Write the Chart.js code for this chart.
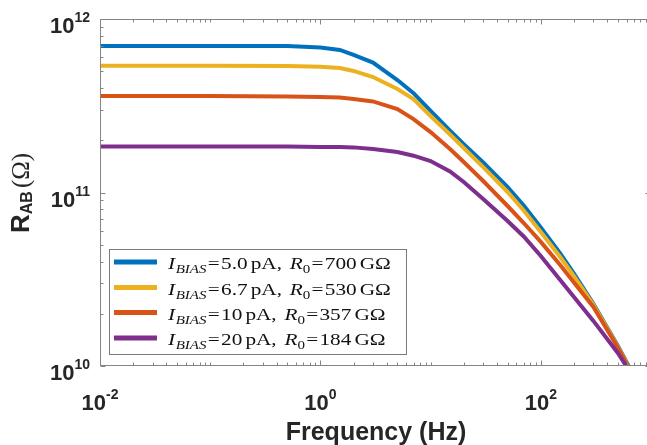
<!DOCTYPE html>
<html><head><meta charset="utf-8">
<script src="https://cdn.jsdelivr.net/npm/chart.js@4.4.0/dist/chart.umd.min.js"></script>
<style>
html,body{margin:0;padding:0;background:#fff;overflow:hidden}
#wrap{width:647px;height:445px;overflow:hidden;position:relative;background:#fff}
canvas{display:block}
</style></head>
<body><div id="wrap"><canvas id="c" width="660" height="445"></canvas></div>
<script>
// ---- data ----
const frequencies = [0.01, 0.1, 0.5, 1, 1.5, 2, 3, 5, 7, 10, 15, 20, 30, 50, 70, 100, 150, 200, 300, 500, 700];
const seriesI5  = [7.0e11, 7.0e11, 6.98e11, 6.85e11, 6.63e11, 6.21e11, 5.61e11, 4.45e11, 3.74e11, 2.95e11, 2.27e11, 1.90e11, 1.49e11, 1.074e11, 8.41e10, 6.28e10, 4.46e10, 3.41e10, 2.28e10, 1.31e10, 8.77e9];
const seriesI67 = [5.38e11, 5.38e11, 5.36e11, 5.30e11, 5.22e11, 5.02e11, 4.63e11, 3.95e11, 3.46e11, 2.76e11, 2.16e11, 1.805e11, 1.40e11, 1.007e11, 7.88e10, 5.92e10, 4.25e10, 3.30e10, 2.25e10, 1.296e10, 8.64e9];
const seriesI10 = [3.60e11, 3.60e11, 3.58e11, 3.55e11, 3.53e11, 3.46e11, 3.35e11, 3.03e11, 2.65e11, 2.23e11, 1.781e11, 1.50e11, 1.165e11, 8.36e10, 6.67e10, 5.19e10, 3.82e10, 3.03e10, 2.19e10, 1.279e10, 8.58e9];
const seriesI20 = [1.84e11, 1.84e11, 1.84e11, 1.83e11, 1.83e11, 1.82e11, 1.78e11, 1.71e11, 1.63e11, 1.519e11, 1.321e11, 1.15e11, 9.17e10, 6.85e10, 5.58e10, 4.31e10, 3.13e10, 2.50e10, 1.82e10, 1.188e10, 8.53e9];
const biasCurrents = ['5.0', '6.7', '10', '20'];
const r0Values = ['700', '530', '357', '184'];
const xTickExponents = [-2, 0, 2];
const yTickExponents = [10, 11, 12];
const xLabelText = 'Frequency (Hz)';

const colors = ['#0072BD', '#EDB120', '#D95319', '#7E2F8E'];
const allSeries = [seriesI5, seriesI67, seriesI10, seriesI20];

const datasets = allSeries.map((s, i) => ({
  label: 'I_BIAS=' + biasCurrents[i] + ' pA, R_0=' + r0Values[i] + ' G\u03A9',
  data: frequencies.map((f, j) => ({x: f, y: s[j]})),
  borderColor: colors[i],
  backgroundColor: colors[i],
  borderWidth: 4,
  pointRadius: 0,
  tension: 0,
  fill: false,
  clip: 0,
  order: 3 - i
}));

const axisColor = '#858585';
const textColor = '#262626';
const SANS = '"Liberation Sans", Arial, Helvetica, sans-serif';
const SERIF = '"Liberation Serif", "Times New Roman", serif';

function drawPow(ctx, base, exp, anchorX, baseline, align) {
  ctx.font = 'bold 22px ' + SANS;
  const wb = ctx.measureText(base).width;
  ctx.font = 'bold 14px ' + SANS;
  const we = ctx.measureText(exp).width;
  const x0 = align === 'center' ? anchorX - (wb + we) / 2 : anchorX - (wb + we);
  ctx.textAlign = 'left';
  ctx.textBaseline = 'alphabetic';
  ctx.font = 'bold 22px ' + SANS;
  ctx.fillText(base, x0, baseline);
  ctx.font = 'bold 14px ' + SANS;
  ctx.fillText(exp, x0 + wb, baseline - 11);
}

function drawSegments(ctx, segs, x, baseline, sx) {
  ctx.save();
  ctx.translate(x, baseline);
  ctx.scale(sx, 1);
  let cx = 0;
  for (const s of segs) {
    ctx.font = s.font;
    ctx.fillText(s.t, cx, s.dy || 0);
    cx += ctx.measureText(s.t).width + (s.gap || 0);
  }
  ctx.restore();
  return cx * sx;
}

function legendSegments(i) {
  const it = 'italic 17px ' + SERIF, itS = 'italic 12px ' + SERIF;
  const rm = '17px ' + SERIF, rmS = '12px ' + SERIF;
  return [
    {t: 'I', font: it, gap: 0.5},
    {t: 'BIAS', font: itS, dy: 4, gap: 1},
    {t: '=', font: rm, gap: 1},
    {t: biasCurrents[i], font: rm, gap: 2.5},
    {t: 'pA, ', font: rm, gap: 2},
    {t: 'R', font: it, gap: 0},
    {t: '0', font: rmS, dy: 4, gap: 1},
    {t: '=', font: rm, gap: 1},
    {t: r0Values[i], font: rm, gap: 2.5},
    {t: 'G\u03A9', font: rm}
  ];
}

const decor = {
  id: 'decor',
  afterDraw(chart) {
    const {ctx, chartArea: a, scales: {x, y}} = chart;
    ctx.save();
    const L = Math.round(a.left) + 0.5, R = Math.round(a.right) - 0.5;
    const T = Math.round(a.top) + 0.5, B = Math.round(a.bottom) - 0.5;
    ctx.strokeStyle = axisColor;
    ctx.lineWidth = 1;
    ctx.beginPath();
    ctx.moveTo(L, T); ctx.lineTo(L, B); ctx.lineTo(R, B); ctx.lineTo(R, T); ctx.closePath();
    for (let d = -2; d <= 3; d++) {
      for (let k = 1; k <= 9; k++) {
        const v = k * Math.pow(10, d);
        if (v > x.max * 1.0001) continue;
        const major = k === 1 && xTickExponents.includes(d);
        const len = major ? 5 : 3;
        const px = Math.round(x.getPixelForValue(v)) + 0.5;
        ctx.moveTo(px, B); ctx.lineTo(px, B - len);
        ctx.moveTo(px, T); ctx.lineTo(px, T + len);
      }
    }
    for (let d = 10; d <= 12; d++) {
      for (let k = 1; k <= 9; k++) {
        const v = k * Math.pow(10, d);
        if (v > y.max * 1.0001) continue;
        const len = k === 1 ? 5 : 3;
        const py = Math.round(y.getPixelForValue(v)) + 0.5;
        ctx.moveTo(L, py); ctx.lineTo(L + len, py);
        ctx.moveTo(R, py); ctx.lineTo(R - len, py);
      }
    }
    ctx.stroke();

    ctx.fillStyle = textColor;
    for (const e of xTickExponents) {
      drawPow(ctx, '10', String(e), x.getPixelForValue(Math.pow(10, e)), 410, 'center');
    }
    for (const e of yTickExponents) {
      drawPow(ctx, '10', String(e), 90, y.getPixelForValue(Math.pow(10, e)) + 14, 'right');
    }

    ctx.font = 'bold 25px ' + SANS;
    ctx.textAlign = 'center';
    ctx.fillText(xLabelText, 376, 440);

    ctx.save();
    ctx.translate(29, 233);
    ctx.rotate(-Math.PI / 2);
    ctx.textAlign = 'left';
    ctx.font = 'bold 26px ' + SANS;
    ctx.fillText('R', 0, 0);
    let cx = ctx.measureText('R').width;
    ctx.font = 'bold 16px ' + SANS;
    ctx.fillText('AB', cx, 3);
    cx += ctx.measureText('AB').width + 3;
    ctx.font = '25px ' + SERIF;
    ctx.fillText('(\u03A9)', cx, 0);
    ctx.restore();

    const bx = 109.5, by = 249.5, bw = 297, bh = 105;
    ctx.fillStyle = '#fff';
    ctx.fillRect(bx, by, bw, bh);
    ctx.strokeStyle = '#7a7a7a';
    ctx.lineWidth = 1;
    ctx.strokeRect(bx, by, bw, bh);
    const rowY = [262, 287.5, 312.5, 338];
    ctx.textAlign = 'left';
    chart.data.datasets.forEach((ds, i) => {
      const yy = rowY[i];
      ctx.strokeStyle = ds.borderColor;
      ctx.lineWidth = 5;
      ctx.beginPath();
      ctx.moveTo(114, yy); ctx.lineTo(157, yy);
      ctx.stroke();
      ctx.fillStyle = '#111';
      drawSegments(ctx, legendSegments(i), 168, yy + 7, 1.25);
    });
    ctx.restore();
  }
};

new Chart(document.getElementById('c'), {
  type: 'line',
  data: {datasets},
  options: {
    responsive: false,
    animation: false,
    devicePixelRatio: 1,
    events: [],
    layout: {padding: {left: 100, top: 19, right: 9, bottom: 79}},
    plugins: {legend: {display: false}, tooltip: {enabled: false}},
    scales: {
      x: {type: 'logarithmic', min: 0.01, max: 1000, display: false},
      y: {type: 'logarithmic', min: 1e10, max: 1e12, display: false}
    }
  },
  plugins: [decor]
});
</script>
</body></html>
